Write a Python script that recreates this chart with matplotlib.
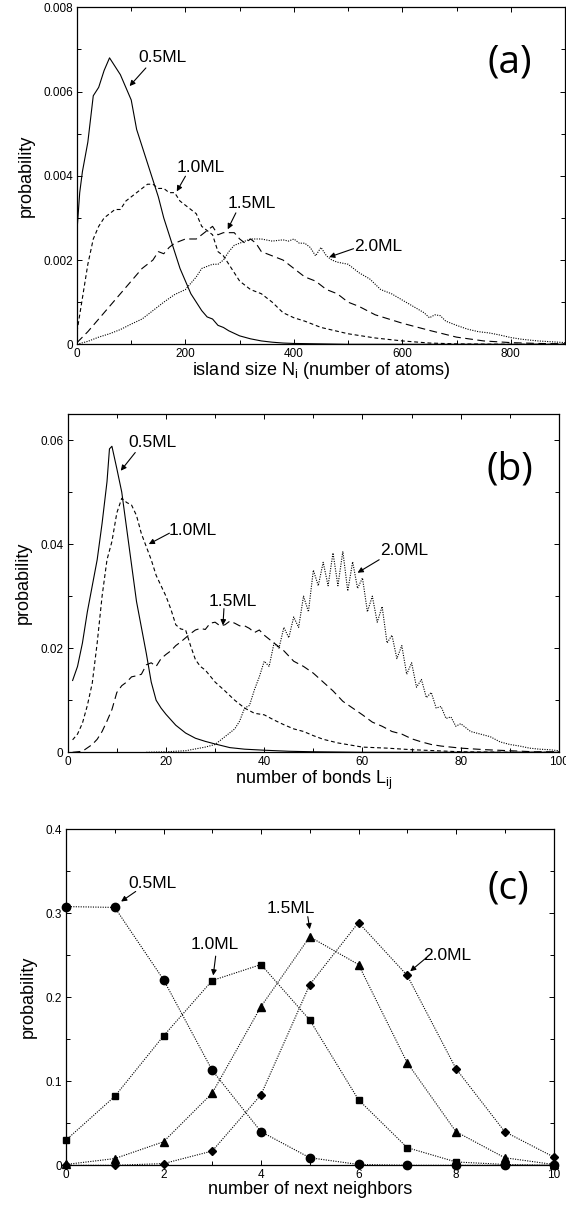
import matplotlib
matplotlib.use("Agg")
import matplotlib.pyplot as plt
from matplotlib.ticker import MultipleLocator, FuncFormatter

plt.rcParams['font.family'] = ['Liberation Sans', 'DejaVu Sans']

# ---------------- Panel (a): island size distribution ----------------
a_x_05 = [0, 5, 10, 20, 30, 40, 50, 60, 70, 80, 90, 100, 110, 120, 130, 140, 150, 160, 170, 180,
          190, 200, 210, 220, 230, 240, 250, 260, 270, 280, 300, 320, 340, 360, 380, 400, 450, 500,
          600, 700, 800, 900]
a_y_05 = [0.0027, 0.0036, 0.0041, 0.0048, 0.0059, 0.0061, 0.0065, 0.0068, 0.0066, 0.0064,
          0.0061, 0.0058, 0.0051, 0.0047, 0.0043, 0.0039, 0.0035, 0.0030, 0.0026, 0.0022,
          0.0018, 0.0015, 0.0012, 0.0010, 0.0008, 0.00065, 0.0006, 0.00045, 0.0004, 0.00032,
          0.0002, 0.00013, 0.00008, 0.00005, 0.00003, 0.00002, 0.00001, 0, 0, 0, 0, 0]

a_x_10 = [0, 10, 20, 30, 40, 50, 60, 70, 80, 90, 100, 110, 120, 130, 140, 150, 160, 170, 180, 190,
          200, 210, 220, 230, 240, 250, 260, 270, 280, 290, 300, 320, 340, 360, 380, 400, 420, 450,
          500, 550, 600, 650, 700, 800, 900]
a_y_10 = [0.0003, 0.0011, 0.0019, 0.0025, 0.0028, 0.0030, 0.0031, 0.0032, 0.0032, 0.0034,
          0.0035, 0.0036, 0.0037, 0.0038, 0.0038, 0.0037, 0.0037, 0.0036, 0.0036, 0.0034,
          0.0033, 0.0032, 0.0031, 0.0028, 0.0027, 0.0026, 0.0022, 0.0021, 0.0019, 0.0017,
          0.0015, 0.0013, 0.0012, 0.0010, 0.00075, 0.00063, 0.00055, 0.0004, 0.00025, 0.00015,
          0.00008, 0.00003, 0.00001, 0, 0]

a_x_15 = [0, 20, 40, 60, 80, 100, 120, 140, 150, 160, 170, 180, 200, 220, 240, 250, 260, 270, 280,
          290, 300, 310, 320, 330, 340, 360, 380, 400, 420, 440, 460, 480, 500, 520, 550, 600, 650,
          700, 750, 800, 850, 900]
a_y_15 = [0.00004, 0.0003, 0.0006, 0.0009, 0.0012, 0.0015, 0.0018, 0.0020, 0.0022, 0.00215,
          0.0023, 0.0024, 0.0025, 0.0025, 0.0027, 0.0028, 0.0026, 0.00265, 0.00265, 0.00265,
          0.0025, 0.0024, 0.0025, 0.0024, 0.0022, 0.0021, 0.0020, 0.0018, 0.0016, 0.0015,
          0.0013, 0.0012, 0.0010, 0.0009, 0.0007, 0.0005, 0.00033, 0.00017, 0.00008, 0.00004,
          0.00002, 0.00001]

a_x_20 = [0, 20, 40, 60, 80, 100, 120, 140, 160, 180, 200, 220, 230, 240, 250, 260, 270, 280, 290,
          300, 320, 340, 360, 380, 390, 400, 410, 420, 430, 440, 450, 460, 470, 480, 500, 520, 540,
          560, 580, 600, 620, 640, 650, 660, 670, 680, 700, 720, 740, 760, 780, 800, 820, 850, 900]
a_y_20 = [0.0, 0.00007, 0.00017, 0.00025, 0.00035, 0.00048, 0.0006, 0.0008, 0.0010, 0.00118,
          0.0013, 0.0016, 0.0018, 0.00185, 0.0019, 0.0019, 0.0020, 0.0022, 0.00235,
          0.0024, 0.0025, 0.0025, 0.00245, 0.00248, 0.00245, 0.0025, 0.0024, 0.0024, 0.0023,
          0.0021, 0.0023, 0.0021, 0.0020, 0.00195, 0.0019, 0.0017, 0.00155, 0.0013, 0.0012,
          0.00105, 0.0009, 0.00075, 0.00063, 0.0007, 0.00068, 0.00055, 0.00045, 0.00036, 0.0003,
          0.00027, 0.00022, 0.00016, 0.00012, 0.00008, 0.00004]

# ---------------- Panel (b): number of bonds distribution ----------------
b_x_05 = [1, 2, 3, 4, 5, 6, 7, 8, 8.5, 9, 10, 11, 12, 13, 14, 15, 16, 17, 18, 19, 20, 22, 24, 26,
          28, 30, 33, 36, 40, 45, 50, 60, 80, 100]
b_y_05 = [0.0138, 0.0165, 0.021, 0.027, 0.032, 0.037, 0.044, 0.052, 0.0583, 0.0588, 0.0545,
          0.050, 0.043, 0.036, 0.029, 0.024, 0.019, 0.0135, 0.010, 0.0085, 0.0073, 0.0052,
          0.0037, 0.0027, 0.0021, 0.0016, 0.0009, 0.0006, 0.0004, 0.0002, 0.0001, 0, 0, 0]

b_x_10 = [1, 2, 3, 4, 5, 6, 7, 8, 9, 10, 11, 12, 13, 14, 15, 16, 17, 18, 19, 20, 21, 22, 23, 24,
          25, 26, 27, 28, 30, 32, 34, 36, 38, 40, 42, 44, 46, 48, 50, 52, 55, 60, 65, 70, 75, 80,
          90, 100]
b_y_10 = [0.0024, 0.0035, 0.0056, 0.009, 0.0133, 0.021, 0.030, 0.037, 0.0405, 0.046, 0.0488,
          0.0480, 0.0475, 0.0455, 0.042, 0.0395, 0.037, 0.034, 0.032, 0.030, 0.0275, 0.0245,
          0.0237, 0.0235, 0.0205, 0.0178, 0.0165, 0.0158, 0.0135, 0.0118, 0.0100, 0.0085,
          0.0075, 0.0072, 0.0062, 0.0053, 0.0045, 0.0040, 0.0032, 0.0025, 0.0018, 0.0010,
          0.0008, 0.0005, 0.0003, 0.0001, 0, 0]

b_x_15 = [1, 3, 5, 6, 7, 8, 9, 10, 11, 12, 13, 14, 15, 16, 17, 18, 19, 20, 21, 22, 23, 24, 25, 26,
          27, 28, 29, 30, 31, 32, 33, 34, 35, 36, 37, 38, 39, 40, 42, 44, 46, 48, 50, 52, 54, 56,
          58, 60, 62, 64, 66, 68, 70, 72, 74, 76, 80, 85, 90, 95, 100]
b_y_15 = [0.0, 0.0002, 0.0015, 0.0025, 0.0040, 0.006, 0.0082, 0.0115, 0.0128, 0.0135, 0.0145,
          0.0147, 0.015, 0.0168, 0.0172, 0.0165, 0.0180, 0.0188, 0.0195, 0.0205, 0.0212, 0.0220,
          0.0228, 0.0235, 0.0238, 0.0236, 0.0248, 0.0250, 0.0243, 0.0245, 0.0252, 0.0248,
          0.0243, 0.0243, 0.0238, 0.0230, 0.0235, 0.0225, 0.021, 0.0195, 0.0175, 0.0165,
          0.0152, 0.0135, 0.0118, 0.0098, 0.0085, 0.0072, 0.0058, 0.0050, 0.0040, 0.0035,
          0.0026, 0.0020, 0.0015, 0.0012, 0.0008, 0.0005, 0.0003, 0.0001, 0.0001]

b_x_20 = [16, 20, 24, 28, 30, 32, 34, 35, 36, 37, 38, 39, 40, 41, 42, 43, 44, 45, 46, 47, 48, 49,
          50, 51, 52, 53, 54, 55, 56, 57, 58, 59, 60, 61, 62, 63, 64, 65, 66, 67, 68, 69, 70, 71,
          72, 73, 74, 75, 76, 77, 78, 79, 80, 82, 84, 86, 88, 90, 92, 94, 96, 98, 100]
b_y_20 = [0.0, 0.0001, 0.0003, 0.0010, 0.0015, 0.0030, 0.0045, 0.0060, 0.0085, 0.0090, 0.0120,
          0.0145, 0.0175, 0.0165, 0.0210, 0.0200, 0.0240, 0.0220, 0.0260, 0.0240, 0.0300,
          0.0270, 0.0350, 0.0320, 0.0365, 0.0320, 0.0383, 0.0320, 0.0386, 0.0310, 0.0366,
          0.0315, 0.0335, 0.0270, 0.0300, 0.0250, 0.0280, 0.0210, 0.0225, 0.0180, 0.0205,
          0.0150, 0.0172, 0.0125, 0.0140, 0.0105, 0.0115, 0.0085, 0.0088, 0.0065, 0.0068,
          0.0050, 0.0055, 0.0040, 0.0035, 0.0030, 0.0020, 0.0015, 0.0012, 0.0008, 0.0006,
          0.0005, 0.0003]

# ---------------- Panel (c): number of next neighbours ----------------
c_x = [0, 1, 2, 3, 4, 5, 6, 7, 8, 9, 10]
c_y_05 = [0.308, 0.307, 0.221, 0.113, 0.040, 0.009, 0.001, 0.0, 0.0, 0.0, 0.0]
c_y_10 = [0.030, 0.082, 0.154, 0.220, 0.239, 0.173, 0.078, 0.021, 0.004, 0.001, 0.0]
c_y_15 = [0.001, 0.008, 0.028, 0.086, 0.189, 0.272, 0.239, 0.122, 0.040, 0.009, 0.001]
c_y_20 = [0.0, 0.0, 0.002, 0.017, 0.084, 0.215, 0.289, 0.226, 0.115, 0.040, 0.010]

labels = ['0.5ML', '1.0ML', '1.5ML', '2.0ML']

# ---------------- figure ----------------
W, H = 566, 1205
fig = plt.figure(figsize=(W / 100, H / 100), dpi=100)


def frac(l, r, t, b):
    return [l / W, 1 - b / H, (r - l) / W, (b - t) / H]


ax_a = fig.add_axes(frac(77, 565, 7.3, 344.3))
ax_b = fig.add_axes(frac(67.7, 559, 414, 752.3))
ax_c = fig.add_axes(frac(66, 553.5, 829.3, 1165.3))

fmt = FuncFormatter(lambda v, p: '%g' % round(v, 6))
LW = 0.8
solid = '-'
short = (0, (3.5, 2.5))
long_ = (0, (7, 4))
dots = (0, (1, 1.2))
PANEL_FONT = ['Open Sans', 'DejaVu Sans']


def style(ax, xlim, ylim, xmaj, xmin, ymaj, ymin, xlabel):
    ax.set_xlim(*xlim)
    ax.set_ylim(*ylim)
    ax.xaxis.set_major_locator(MultipleLocator(xmaj))
    ax.xaxis.set_minor_locator(MultipleLocator(xmin))
    ax.yaxis.set_major_locator(MultipleLocator(ymaj))
    ax.yaxis.set_minor_locator(MultipleLocator(ymin))
    ax.xaxis.set_major_formatter(fmt)
    ax.yaxis.set_major_formatter(fmt)
    ax.tick_params(which='both', direction='in', top=True, right=True, labelsize=8.5,
                   width=0.7, pad=3)
    ax.tick_params(which='major', length=3.5)
    ax.tick_params(which='minor', length=3)
    for s in ax.spines.values():
        s.set_linewidth(0.9)
    ax.set_xlabel(xlabel, fontsize=13, labelpad=0)
    ax.set_ylabel('probability', fontsize=13, labelpad=6)


def arrow(ax, text, tx, ty, tail, head):
    ax.text(tx, ty, text, fontsize=12.5, ha='left', va='center')
    ax.annotate('', xy=head, xytext=tail,
                arrowprops=dict(arrowstyle='-|>', lw=0.8, color='k',
                                mutation_scale=8, shrinkA=0, shrinkB=0))


# Panel (a)
ax_a.plot(a_x_05, a_y_05, color='k', lw=LW, ls=solid)
ax_a.plot(a_x_10, a_y_10, color='k', lw=LW, ls=short)
ax_a.plot(a_x_15, a_y_15, color='k', lw=LW, ls=long_)
ax_a.plot(a_x_20, a_y_20, color='k', lw=LW, ls=dots)
style(ax_a, (0, 900), (0, 0.008), 200, 100, 0.002, 0.001,
      r'island size N$_\mathregular{i}$ (number of atoms)')
arrow(ax_a, labels[0], 114, 0.0068, (127, 0.00656), (97, 0.00613))
arrow(ax_a, labels[1], 184, 0.0042, (200, 0.00399), (184, 0.00363))
arrow(ax_a, labels[2], 278, 0.00334, (293, 0.00312), (278, 0.00273))
arrow(ax_a, labels[3], 512, 0.00233, (510, 0.00227), (465, 0.00207))
ax_a.text(798, 0.0067, '(a)', fontsize=28, family=PANEL_FONT, ha='center', va='center')

# Panel (b)
ax_b.plot(b_x_05, b_y_05, color='k', lw=LW, ls=solid)
ax_b.plot(b_x_10, b_y_10, color='k', lw=LW, ls=short)
ax_b.plot(b_x_15, b_y_15, color='k', lw=LW, ls=long_)
ax_b.plot(b_x_20, b_y_20, color='k', lw=LW, ls=dots)
style(ax_b, (0, 100), (0, 0.065), 20, 10, 0.02, 0.01,
      r'number of bonds L$_\mathregular{ij}$')
arrow(ax_b, labels[0], 12.3, 0.0595, (13.75, 0.0576), (10.8, 0.0541))
arrow(ax_b, labels[1], 20.6, 0.0426, (20.7, 0.0421), (16.5, 0.0400))
arrow(ax_b, labels[2], 28.7, 0.0289, (31.8, 0.0276), (31.6, 0.0244))
arrow(ax_b, labels[3], 63.5, 0.0387, (63.4, 0.0370), (59.0, 0.0345))
ax_b.text(90.0, 0.0544, '(b)', fontsize=28, family=PANEL_FONT, ha='center', va='center')

# Panel (c)
ax_c.plot(c_x, c_y_05, color='k', lw=LW, ls=dots, marker='o', ms=6)
ax_c.plot(c_x, c_y_10, color='k', lw=LW, ls=dots, marker='s', ms=5)
ax_c.plot(c_x, c_y_15, color='k', lw=LW, ls=dots, marker='^', ms=6)
ax_c.plot(c_x, c_y_20, color='k', lw=LW, ls=dots, marker='D', ms=4.2)
style(ax_c, (0, 10), (0, 0.4), 2, 1, 0.1, 0.05, 'number of next neighbors')
for l in ax_c.lines:
    l.set_clip_on(False)
arrow(ax_c, labels[0], 1.28, 0.336, (1.43, 0.326), (1.13, 0.314))
arrow(ax_c, labels[1], 2.56, 0.263, (3.07, 0.249), (3.02, 0.226))
arrow(ax_c, labels[2], 4.12, 0.306, (4.96, 0.296), (5.0, 0.281))
arrow(ax_c, labels[3], 7.32, 0.250, (7.39, 0.247), (7.06, 0.231))
ax_c.text(9.07, 0.330, '(c)', fontsize=28, family=PANEL_FONT, ha='center', va='center')

fig.savefig('out.png', dpi=100)
